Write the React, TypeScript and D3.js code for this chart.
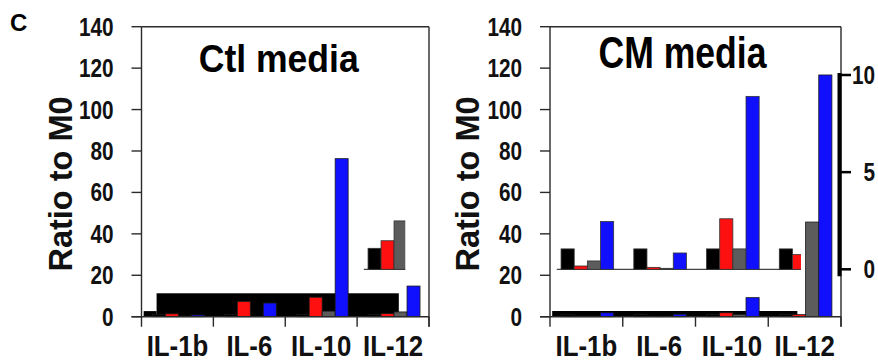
import React from 'react';
import * as d3 from 'd3';

// cytokines on the x axis, four series per group
const cytokines = ['IL-1b', 'IL-6', 'IL-10', 'IL-12'];
const seriesKeys = ['M0', 'S1', 'S2', 'S3'];
const seriesColors = ['#000000', '#ff1010', '#5c5c5c', '#1010ff'];

// Ctl media, ratio to M0
const ctlBlack = [1, 1, 1, 1];
const ctlRed = [1.4, 7.4, 9.4, 1.5];
const ctlGray = [0.3, 0.2, 2.7, 2.3];
const ctlBlue = [0.8, 6.6, 76.3, 14.8];

// CM media, ratio to M0
const cmBlack = [1, 1, 1, 1];
const cmRed = [0.3, 0.2, 1.9, 1.0];
const cmGray = [0.3, 0.2, 1.0, 45.7];
const cmBlue = [1.9, 1.2, 9.2, 116.7];

// overlaid panels read on the secondary (0-10) axis
const cmInsetBlack = [1.05, 1.05, 1.05, 1.05];
const cmInsetRed = [0.17, 0.1, 2.6, 0.76];
const cmInsetGray = [0.43, 0.05, 1.05, 0];
const cmInsetBlue = [2.46, 0.84, 8.9, 0];

const ctlInsetBlack = [0, 0, 0, 1.08];
const ctlInsetRed = [0, 0, 0, 1.47];
const ctlInsetGray = [0, 0, 0, 2.49];
const ctlInsetBlue = [0, 0, 0, 0];

// pasted-over black blocks, in group units [start, end, value]
const ctlBlocks = [[0.03, 0.21, 2.7], [0.21, 3.58, 11.3]];
const cmBlocks = [[0.03, 3.4, 2.75]];
// visible window of the overlaid panel, group units
const ctlInsetWindow = [3.09, 3.67];
const cmInsetWindow = [0.09, 3.45];

const yTicks = [0, 20, 40, 60, 80, 100, 120, 140];
const y2Ticks = [0, 5, 10];

const FONT = 'Liberation Sans, Arial, Helvetica, sans-serif';
const AXIS = '#2a2a2a';

const y = d3.scaleLinear().domain([0, 140]).range([316.7, 26.7]);
const y2 = d3.scaleLinear().domain([0, 10]).range([269.3, 75]);

function Panel({ id, x0, x1, values, blocks, inset, insetWindow, title, titleSize, titleScale, titleX, titleY, labelX, secondary }) {
  const x = d3.scaleBand().domain(cytokines).range([x0, x1]).padding(0);
  const bw = x.bandwidth();
  const xs = d3.scaleBand().domain(seriesKeys).range([bw * 0.152, bw * 0.875]).padding(0);
  const gu = d3.scaleLinear().domain([0, 4]).range([x0, x1]);
  const base = y(0);

  const bars = (vals, scale, stroke) =>
    seriesKeys.map((k, si) =>
      cytokines.map((c, ci) => {
        const v = vals[si][ci];
        if (!v) return null;
        return (
          <rect key={`${k}-${c}`} x={x(c) + xs(k)} y={scale(v)} width={xs.bandwidth()} height={scale(0) - scale(v)}
            fill={seriesColors[si]} stroke={stroke} strokeWidth={0.8} />
        );
      })
    );

  return (
    <g>
      <defs>
        <clipPath id={`clip-${id}`}>
          <rect x={gu(insetWindow[0])} y={0} width={gu(insetWindow[1]) - gu(insetWindow[0])} height={362} />
        </clipPath>
      </defs>
      {blocks.map((b, i) => (
        <rect key={`blk${i}`} x={gu(b[0])} y={y(b[2])} width={gu(b[1]) - gu(b[0])} height={base - y(b[2])} fill="#000" />
      ))}
      {bars(values, y, '#1a1a1a')}
      <g clipPath={`url(#clip-${id})`}>
        <line x1={gu(insetWindow[0])} x2={gu(insetWindow[1])} y1={y2(0)} y2={y2(0)} stroke="#444" strokeWidth={1.2} />
        {bars(inset, y2, '#333')}
      </g>

      {/* frame and axes */}
      <line x1={x0} x2={x0} y1={y(140)} y2={base + 10} stroke={AXIS} strokeWidth={1.4} />
      <line x1={x1} x2={x1} y1={y(140)} y2={base + 10} stroke={AXIS} strokeWidth={1.4} />
      <line x1={x0} x2={x1} y1={y(140)} y2={y(140)} stroke={AXIS} strokeWidth={1.4} />
      <line x1={x0 - 10} x2={x1} y1={base} y2={base} stroke={AXIS} strokeWidth={1.4} />
      {cytokines.map((c) => (
        <line key={`xt-${c}`} x1={x(c) + bw} x2={x(c) + bw} y1={base} y2={base + 10} stroke={AXIS} strokeWidth={1.4} />
      ))}
      {yTicks.map((t) => (
        <g key={`yt${t}`}>
          <line x1={x0 - 10} x2={x0} y1={y(t)} y2={y(t)} stroke={AXIS} strokeWidth={1.4} />
          <text transform={`translate(${x0 - 28},${y(t)}) scale(0.83,1)`} dy="0.358em" textAnchor="end"
            fontFamily={FONT} fontWeight="bold" fontSize={25} fill="#111">{t}</text>
        </g>
      ))}
      {cytokines.map((c) => (
        <text key={`xl-${c}`} transform={`translate(${x(c) + bw / 2},356) scale(0.89,1)`} textAnchor="middle"
          fontFamily={FONT} fontWeight="bold" fontSize={29} fill="#111">{c}</text>
      ))}
      <text transform={`translate(${labelX},184) rotate(-90)`} textAnchor="middle"
        fontFamily={FONT} fontWeight="bold" fontSize={32.5} fill="#111">Ratio to M0</text>
      <text transform={`translate(${titleX},${titleY}) scale(${titleScale},1)`} textAnchor="middle"
        fontFamily={FONT} fontWeight="bold" fontSize={titleSize} fill="#000">{title}</text>

      {secondary && (
        <g>
          <line x1={x1 - 1.5} x2={x1 - 1.5} y1={y2(10) - 2} y2={y2(0) + 7} stroke="#000" strokeWidth={4} />
          {y2Ticks.map((t) => (
            <g key={`y2${t}`}>
              <line x1={x1 - 1.5} x2={x1 + 10} y1={y2(t)} y2={y2(t)} stroke="#000" strokeWidth={2.5} />
              <text transform={`translate(875,${y2(t)}) scale(0.83,1)`} dy="0.358em" textAnchor="end"
                fontFamily={FONT} fontWeight="bold" fontSize={25} fill="#111">{t}</text>
            </g>
          ))}
        </g>
      )}
    </g>
  );
}

export default function App() {
  return (
    <svg width={878} height={362} style={{ position: 'absolute', left: 0, top: 0, background: '#fff' }}>
      <rect width={878} height={362} fill="#fff" />
      <text x={10} y={30.7} fontFamily={FONT} fontWeight="bold" fontSize={24} fill="#000">C</text>
      <Panel id="ctl" x0={141.5} x1={429} values={[ctlBlack, ctlRed, ctlGray, ctlBlue]}
        blocks={ctlBlocks} inset={[ctlInsetBlack, ctlInsetRed, ctlInsetGray, ctlInsetBlue]}
        insetWindow={ctlInsetWindow} title="Ctl media" titleSize={39.5} titleScale={0.9} titleX={278.7} titleY={71.7}
        labelX={71.7} secondary={false} />
      <Panel id="cm" x0={550} x1={841} values={[cmBlack, cmRed, cmGray, cmBlue]}
        blocks={cmBlocks} inset={[cmInsetBlack, cmInsetRed, cmInsetGray, cmInsetBlue]}
        insetWindow={cmInsetWindow} title="CM media" titleSize={45} titleScale={0.79} titleX={682.5} titleY={68.3}
        labelX={479.3} secondary={true} />
    </svg>
  );
}
